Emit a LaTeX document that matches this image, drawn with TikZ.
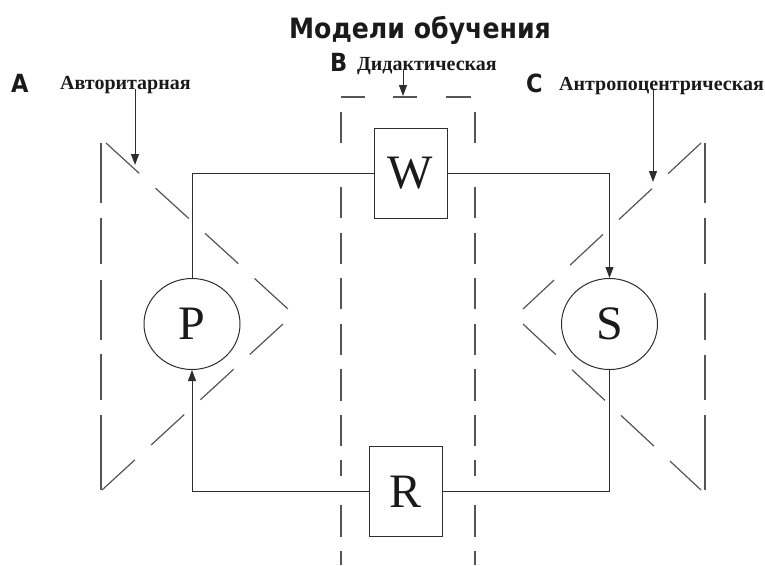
\documentclass[tikz,border=0pt]{standalone}
\usepackage{fontspec}
\setmainfont{Liberation Serif}
\newfontfamily\headfont[FakeStretch=0.9]{DejaVu Sans}
\usetikzlibrary{arrows.meta,shapes.geometric}
\definecolor{linec}{HTML}{2E2E2E}
\definecolor{dashc}{HTML}{555555}
\definecolor{textc}{HTML}{1A1A1A}
\begin{document}
\begin{tikzpicture}[x=1pt,y=-1pt,
  conn/.style={draw=linec, line width=1pt},
  arr/.style={conn, -{Triangle[length=11pt,width=8pt]}},
  bnd/.style={draw=dashc, line width=1.2pt},
  diag/.style={bnd, dash pattern=on 45pt off 22pt},
  box/.style={rectangle, draw=linec, line width=1pt, minimum width=73pt, minimum height=90pt, inner sep=0pt, text=textc, font=\fontsize{48}{48}\selectfont},
  agent/.style={ellipse, draw=linec, line width=1pt, minimum width=96pt, minimum height=91pt, inner sep=0pt, text=textc, font=\fontsize{48}{48}\selectfont},
  letter/.style={anchor=base west, inner sep=0pt, text=textc, font=\headfont\bfseries\fontsize{25}{25}\selectfont},
  model/.style={anchor=base west, inner sep=0pt, text=textc, font=\bfseries\fontsize{20}{20}\selectfont},
  titlestyle/.style={anchor=base, inner sep=0pt, text=textc, font=\headfont\bfseries\fontsize{28}{28}\selectfont}
]
\useasboundingbox (0,0) rectangle (765,565);

% title and labels
\node[titlestyle] (title) at (420,38) {Модели обучения};
\node[letter] (la) at (11,92) {A};
\node[model] (ma) at (60,89) {Авторитарная};
\node[letter] (lb) at (330,71) {B};
\node[model] (mb) at (357,70) {Дидактическая};
\node[letter] (lc) at (526,92) {C};
\node[model] (mc) at (559,90) {Антропоцентрическая};

% left triangle (authoritarian)
\foreach \a/\b in {143/203,218/264,280/340,354/400,415/490}
  \draw[bnd] (101,\a) -- (101,\b);
\draw[diag] (106,143) -- (288,309);
\draw[diag] (283,324) -- (102,490);

% right triangle (anthropocentric)
\foreach \a/\b in {143/203,218/264,293/340,355/400,415/490}
  \draw[bnd] (705,\a) -- (705,\b);
\draw[diag] (701,143) -- (523,309);
\draw[diag] (523,324) -- (701,490);

% central strip (didactic)
\foreach \a/\b in {341/365,393/417,446/471}
  \draw[bnd] (\a,97) -- (\b,97);
\foreach \a/\b in {112/143,187/218,233/264,278/309,324/355,369/401,415/446,460/476,505/537,551/565}{
  \draw[bnd] (341,\a) -- (341,\b);
  \draw[bnd] (475,\a) -- (475,\b);
}

% nodes
\node[box] (W) at (410.5,173) {W};
\node[box] (R) at (405.5,491.5) {R};
\node[agent] (P) at (192,324) {P};
\node[agent] (S) at (609.5,324) {S};

% connectors
\draw[conn] (P.north) |- (W.west);
\draw[arr] (W.east) -| (S.north);
\draw[conn] (S.south) |- (R.east);
\draw[arr] (R.west) -| (P.south);

% label arrows
\coordinate (ta) at (135,165);
\coordinate (tb) at (403,96);
\coordinate (tc) at (653,182);
\draw[arr] (ma.base -| ta) -- (ta);
\draw[arr] (mb.base -| tb) -- (tb);
\draw[arr] (mc.base -| tc) -- (tc);
\end{tikzpicture}
\end{document}
